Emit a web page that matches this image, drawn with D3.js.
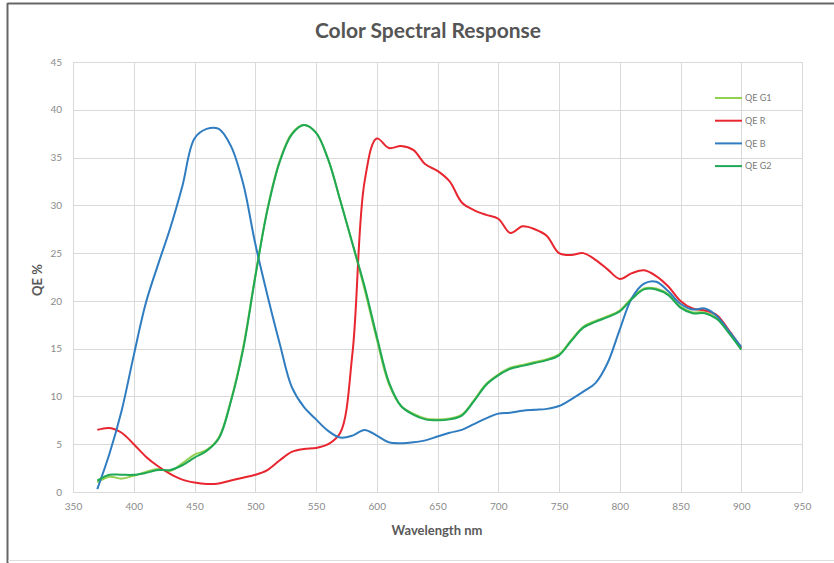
<!DOCTYPE html>
<html>
<meta charset="utf-8">
<title>Color Spectral Response</title>
<style>
  html, body {
    margin: 0;
    padding: 0;
    background: #fff;
  }
  svg text {
    font-family: Lato, "Open Sans", sans-serif;
  }
  .grid line {
    stroke: #d9d9d9;
    stroke-width: 1;
  }
  .tick-label {
    font-size: 10px;
    fill: #8a8a8a;
  }
  .series {
    fill: none;
    stroke-width: 2;
    stroke-linejoin: round;
  }
</style>
<body>
<div id="chart"></div>
<script src="https://d3js.org/d3.v7.min.js"></script>
<script>
// wavelength sample points, nm
var wavelengths = [370, 380, 390, 400, 410, 420, 430, 440, 450, 460,
    470, 480, 490, 500, 510, 520, 530, 540, 550, 560,
    570, 580, 590, 600, 610, 620, 630, 640, 650, 660,
    670, 680, 690, 700, 710, 720, 730, 740, 750, 760,
    770, 780, 790, 800, 810, 820, 830, 840, 850, 860,
    870, 880, 890, 900];

var qeG1 = [1.0, 1.6, 1.4, 1.7, 2.1, 2.4, 2.2, 3.0, 3.9, 4.4,
    5.7, 9.6, 15.1, 22.6, 29.6, 34.6, 37.5, 38.4, 37.6, 34.8,
    30.5, 26.0, 21.2, 16.0, 11.3, 9.0, 8.2, 7.7, 7.6, 7.7,
    8.1, 9.6, 11.3, 12.3, 13.0, 13.3, 13.6, 13.9, 14.4, 15.9,
    17.3, 17.9, 18.4, 19.0, 20.3, 21.3, 21.3, 20.7, 19.4, 18.8,
    18.8, 18.2, 16.7, 15.0];

var qeR = [6.5, 6.7, 6.2, 5.0, 3.7, 2.7, 1.9, 1.3, 1.0, 0.85,
    0.9, 1.2, 1.5, 1.8, 2.3, 3.3, 4.2, 4.5, 4.6, 5.0,
    6.2, 14.5, 32.5, 37.0, 36.0, 36.2, 35.8, 34.3, 33.6, 32.5,
    30.3, 29.5, 29.0, 28.6, 27.1, 27.8, 27.5, 26.8, 25.0, 24.8,
    25.0, 24.3, 23.3, 22.3, 22.9, 23.2, 22.6, 21.5, 20.0, 19.2,
    19.0, 18.5, 16.9, 15.1];

var qeB = [0.3, 4.0, 8.5, 14.3, 19.8, 23.8, 27.6, 32.0, 37.0, 38.0,
    38.0, 36.2, 32.3, 26.0, 20.6, 15.6, 11.0, 8.9, 7.6, 6.4,
    5.7, 5.9, 6.5, 5.9, 5.2, 5.1, 5.2, 5.4, 5.8, 6.2,
    6.5, 7.1, 7.7, 8.2, 8.3, 8.5, 8.6, 8.7, 9.0, 9.7,
    10.5, 11.4, 13.5, 17.0, 20.3, 21.8, 22.0, 21.0, 19.7, 19.1,
    19.2, 18.4, 16.8, 15.2];

var qeG2 = [1.2, 1.8, 1.8, 1.8, 2.0, 2.3, 2.3, 2.8, 3.6, 4.3,
    5.6, 9.5, 14.9, 22.5, 29.5, 34.5, 37.4, 38.4, 37.6, 34.8,
    30.5, 26.0, 21.5, 16.3, 11.5, 9.0, 8.1, 7.6, 7.5, 7.6,
    8.0, 9.5, 11.2, 12.2, 12.9, 13.2, 13.5, 13.8, 14.3, 15.8,
    17.2, 17.8, 18.3, 18.9, 20.2, 21.2, 21.2, 20.6, 19.3, 18.7,
    18.7, 18.1, 16.6, 14.9];

var seriesNames = ["QE G1", "QE R", "QE B", "QE G2"];
var seriesColors = ["#92d050", "#e8262f", "#2f7dc0", "#1fa855"];
var xTicks = [350, 400, 450, 500, 550, 600, 650, 700, 750, 800, 850, 900, 950];
var yTicks = [0, 5, 10, 15, 20, 25, 30, 35, 40, 45];

var W = 834, H = 563;
var margin = {top: 62, right: 32, bottom: 71, left: 73},
    width = W - margin.left - margin.right,
    height = H - margin.top - margin.bottom;

var svg = d3.select("#chart").append("svg")
    .attr("width", W)
    .attr("height", H);

// outer frame like the screenshot
svg.append("line").attr("x1", 7.5).attr("x2", W).attr("y1", 3.5).attr("y2", 3.5)
    .attr("stroke", "#666").attr("stroke-width", 2);
svg.append("line").attr("x1", 7.5).attr("x2", 7.5).attr("y1", 3).attr("y2", H)
    .attr("stroke", "#666").attr("stroke-width", 2);
svg.append("line").attr("x1", 8).attr("x2", W).attr("y1", 560.5).attr("y2", 560.5)
    .attr("stroke", "#ddd").attr("stroke-width", 1);

svg.append("text")
    .attr("x", 428)
    .attr("y", 38)
    .attr("text-anchor", "middle")
    .style("font-size", "21px")
    .style("font-weight", "bold")
    .style("fill", "#555")
    .text("Color Spectral Response");

var g = svg.append("g")
    .attr("transform", "translate(" + margin.left + "," + margin.top + ")");

var x = d3.scaleLinear().domain([350, 950]).range([0, width]);
var y = d3.scaleLinear().domain([0, 45]).range([height, 0]);

// grid
var grid = g.append("g").attr("class", "grid");
grid.selectAll(".h").data(yTicks).enter().append("line")
    .attr("x1", 0).attr("x2", width)
    .attr("y1", function(d) { return Math.round(y(d)) + 0.5; })
    .attr("y2", function(d) { return Math.round(y(d)) + 0.5; });
grid.selectAll(".v").data(xTicks).enter().append("line")
    .attr("y1", 0).attr("y2", height)
    .attr("x1", function(d) { return Math.round(x(d)) + 0.5; })
    .attr("x2", function(d) { return Math.round(x(d)) + 0.5; });

// axes (labels only, Excel style)
var xAxis = g.append("g")
    .attr("transform", "translate(0," + height + ")")
    .call(d3.axisBottom(x).tickValues(xTicks).tickSize(0).tickPadding(11));
var yAxis = g.append("g")
    .call(d3.axisLeft(y).tickValues(yTicks).tickSize(0).tickPadding(11));
[xAxis, yAxis].forEach(function(ax) {
    ax.select(".domain").remove();
    ax.selectAll("text").attr("class", "tick-label")
        .style("font-family", "Lato, sans-serif");
});

svg.append("text")
    .attr("x", 437)
    .attr("y", 535)
    .attr("text-anchor", "middle")
    .style("font-size", "13px")
    .style("font-weight", "bold")
    .style("fill", "#595959")
    .text("Wavelength nm");

svg.append("text")
    .attr("transform", "translate(42,280) rotate(-90)")
    .attr("text-anchor", "middle")
    .style("font-size", "13px")
    .style("font-weight", "bold")
    .style("fill", "#595959")
    .text("QE %");

var series = [qeG1, qeR, qeB, qeG2].map(function(vals, i) {
    return {
        name: seriesNames[i],
        color: seriesColors[i],
        points: wavelengths.map(function(w, j) { return [w, vals[j]]; })
    };
});

var line = d3.line()
    .x(function(d) { return x(d[0]); })
    .y(function(d) { return y(d[1]); })
    .curve(d3.curveCatmullRom.alpha(0.5));

g.selectAll(".series")
    .data(series)
    .enter().append("path")
    .attr("class", "series")
    .attr("stroke", function(d) { return d.color; })
    .attr("d", function(d) { return line(d.points); });

// legend
var legend = svg.append("g").attr("transform", "translate(715,98)");
var item = legend.selectAll(".item")
    .data(series)
    .enter().append("g")
    .attr("transform", function(d, i) { return "translate(0," + (i * 22.7) + ")"; });
item.append("line")
    .attr("x1", 0).attr("x2", 27)
    .attr("stroke", function(d) { return d.color; })
    .attr("stroke-width", 2);
item.append("text")
    .attr("x", 30)
    .attr("dy", "0.35em")
    .style("font-size", "9px")
    .style("fill", "#7a7a7a")
    .text(function(d) { return d.name; });
</script>
</body>
</html>
